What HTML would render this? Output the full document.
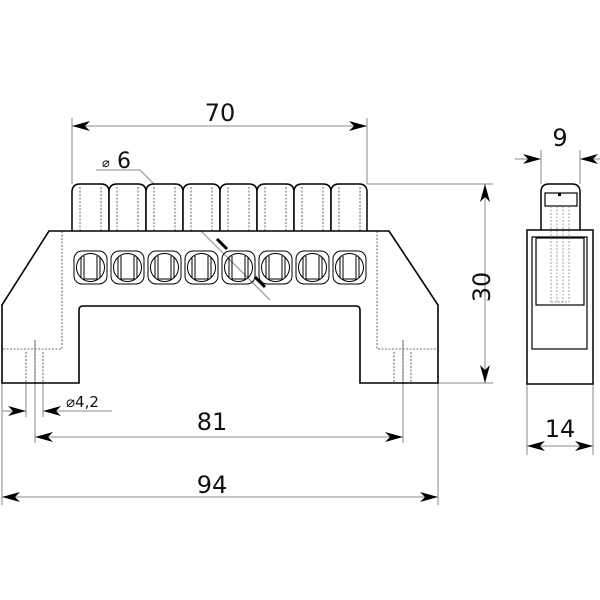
<!DOCTYPE html>
<html><head><meta charset="utf-8"><style>html,body{margin:0;padding:0;background:#fff}svg{display:block}text{font-family:"DejaVu Sans","Liberation Sans",sans-serif;fill:#111}</style></head>
<body>
<svg width="600" height="600" viewBox="0 0 600 600" xmlns="http://www.w3.org/2000/svg">
<g fill="none" stroke="#888" stroke-width="1">
<line x1="72" y1="118" x2="72" y2="184"/><line x1="367" y1="118" x2="367" y2="184"/>
<line x1="367" y1="184" x2="493" y2="184"/><line x1="438" y1="383" x2="493" y2="383"/>
<line x1="2" y1="383" x2="2" y2="505"/><line x1="438" y1="383" x2="438" y2="505"/>
<line x1="35" y1="340" x2="35" y2="443"/><line x1="403" y1="340" x2="403" y2="443"/>
<line x1="26" y1="383" x2="26" y2="417"/><line x1="43" y1="383" x2="43" y2="417"/>
<line x1="541" y1="150" x2="541" y2="184"/><line x1="580" y1="150" x2="580" y2="184"/>
<line x1="527" y1="384" x2="527" y2="455"/><line x1="593" y1="384" x2="593" y2="455"/>
<polyline points="96,170 140,170 270,300"/>
<line x1="43" y1="411" x2="112" y2="411"/>
<line x1="72" y1="126" x2="367" y2="126"/>
<line x1="485" y1="184" x2="485" y2="383"/>
<line x1="35" y1="437" x2="403" y2="437"/>
<line x1="2" y1="497" x2="438" y2="497"/>
<line x1="2" y1="411" x2="26" y2="411"/>
<line x1="515" y1="159" x2="541" y2="159"/>
<line x1="580" y1="159" x2="600" y2="159"/>
<line x1="527" y1="446" x2="593" y2="446"/>
</g>
<g fill="#000" stroke="none">
<polygon points="72,126 90,121 85,126 90,131"/><polygon points="367,126 349,121 354,126 349,131"/>
<polygon points="485,184 480,202 485,197 490,202"/><polygon points="485,383 480,365 485,370 490,365"/>
<polygon points="35,437 53,432 48,437 53,442"/><polygon points="403,437 385,432 390,437 385,442"/>
<polygon points="2,497 20,492 15,497 20,502"/><polygon points="438,497 420,492 425,497 420,502"/>
<polygon points="26,411 8,406 13,411 8,416"/><polygon points="43,411 61,406 56,411 61,416"/>
<polygon points="541,159 523,154 528,159 523,164"/><polygon points="580,159 598,154 593,159 598,164"/>
<polygon points="527,446 545,441 540,446 545,451"/><polygon points="593,446 575,441 580,446 575,451"/>
</g>
<path d="M217,239 L227,249 M255,277 L265,287" stroke="#000" stroke-width="3"/>
<g fill="#fff" stroke="#000" stroke-width="1.5">
<path d="M72,231 V192 Q72,184 80,184 H101 Q109,184 109,192 V231"/>
<path d="M109,231 V192 Q109,184 117,184 H138 Q146,184 146,192 V231"/>
<path d="M146,231 V192 Q146,184 154,184 H175 Q183,184 183,192 V231"/>
<path d="M183,231 V192 Q183,184 191,184 H212 Q220,184 220,192 V231"/>
<path d="M220,231 V192 Q220,184 228,184 H249 Q257,184 257,192 V231"/>
<path d="M257,231 V192 Q257,184 265,184 H286 Q294,184 294,192 V231"/>
<path d="M294,231 V192 Q294,184 302,184 H323 Q331,184 331,192 V231"/>
<path d="M331,231 V192 Q331,184 339,184 H359 Q367,184 367,192 V231"/>
</g>
<g fill="none" stroke="#444" stroke-width="0.8" stroke-dasharray="2,1.5">
<path d="M80,187V231M101,187V231M117,187V231M138,187V231M154,187V231M175,187V231M191,187V231M212,187V231M228,187V231M249,187V231M265,187V231M286,187V231M302,187V231M323,187V231M339,187V231M360,187V231"/>
<path d="M62,231V349H2M377,231V349H438M26,352V383M43,352V383M35,340V383M394,352V383M411,352V383M403,340V383"/>
</g>
<path d="M49,231 H389 L438,305 V383 H360 V310 Q360,306 356,306 H83 Q79,306 79,310 V383 H2 V305 Z" fill="none" stroke="#000" stroke-width="1.6"/>
<g fill="none" stroke="#000" stroke-width="1">
<g id="h"><rect x="74" y="251" width="33" height="33" rx="8"/><circle cx="90.5" cy="267.5" r="14"/><path d="M81,257V278M84,256V279M97,256V279M100,257V278M84,279H97"/></g>
<use href="#h" x="37"/><use href="#h" x="74"/><use href="#h" x="111"/><use href="#h" x="148"/><use href="#h" x="185"/><use href="#h" x="222"/><use href="#h" x="259"/>
</g>
<g fill="none" stroke="#000" stroke-width="1.5">
<path d="M541,230 V192 Q541,184 549,184 H572 Q580,184 580,192 V230"/>
<rect x="527" y="230" width="66" height="154"/>
<rect x="532" y="237" width="55" height="112" stroke-width="1.2"/>
<rect x="536" y="238" width="48" height="67" stroke-width="1.2"/>
<rect x="545" y="193" width="32" height="13" stroke-width="1.2"/>
</g>
<rect x="558" y="193" width="3" height="3" fill="#000"/>
<path d="M551,206V302M557,206V302M563,206V302M569,206V302M551,302H569" stroke="#777" stroke-width="0.7" stroke-dasharray="2,1.5" fill="none"/>
<text x="220" y="121" font-size="24" text-anchor="middle">70</text>
<text x="102" y="167" font-size="13">⌀</text>
<text x="117" y="168" font-size="22">6</text>
<text transform="translate(490,287) rotate(-90)" font-size="24" text-anchor="middle">30</text>
<text x="212" y="430" font-size="24" text-anchor="middle">81</text>
<text x="212" y="493" font-size="24" text-anchor="middle">94</text>
<text x="66" y="407" font-size="15">⌀4,2</text>
<text x="560" y="146" font-size="24" text-anchor="middle">9</text>
<text x="560" y="437" font-size="24" text-anchor="middle">14</text>
</svg>
</body></html>
